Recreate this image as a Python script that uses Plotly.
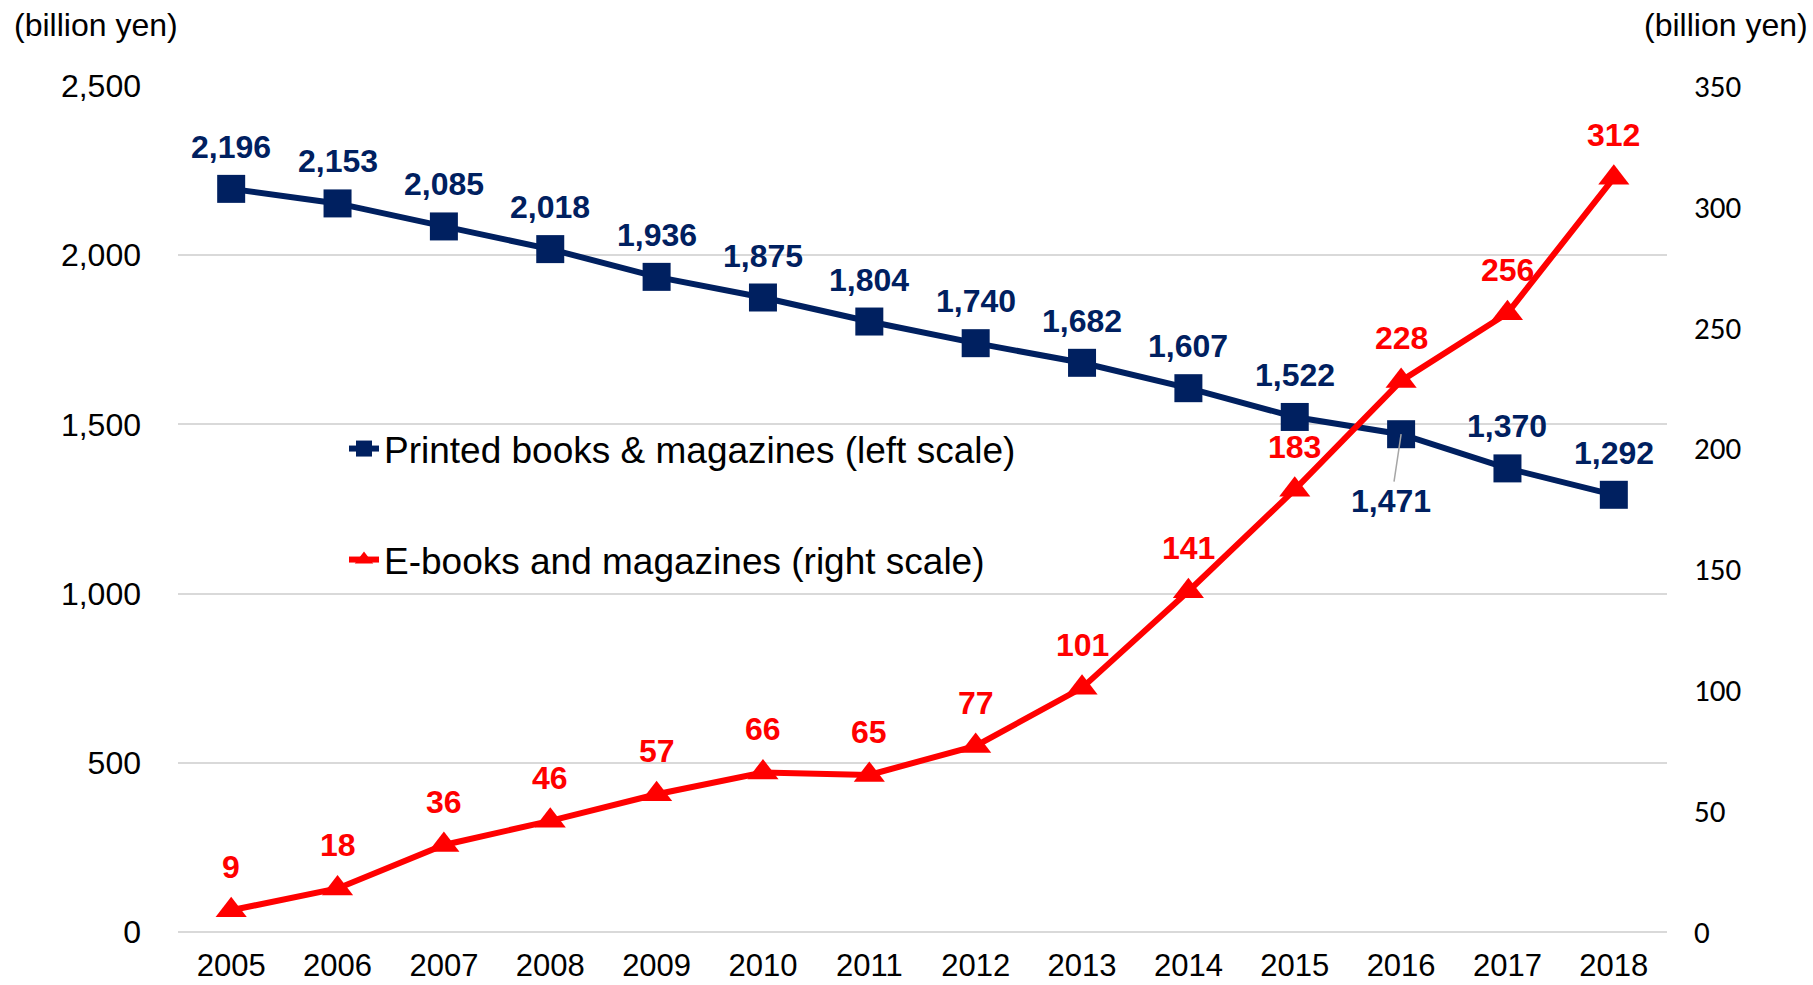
import plotly.graph_objects as go

years = list(range(2005, 2019))
printed = [2196, 2153, 2085, 2018, 1936, 1875, 1804, 1740, 1682, 1607, 1522, 1471, 1370, 1292]
ebooks = [9, 18, 36, 46, 57, 66, 65, 77, 101, 141, 183, 228, 256, 312]
left_ticks = [0, 500, 1000, 1500, 2000, 2500]
right_ticks = [0, 50, 100, 150, 200, 250, 300, 350]

NAVY = "#002060"
RED = "#FF0000"
FONT = "Liberation Sans, Arial, sans-serif"

W, H = 1813, 985
L, R, T, B = 178, 146, 86, 53
pw, ph = W - L - R, H - T - B

fig = go.Figure()
fig.add_trace(go.Scatter(
    x=years, y=printed, name="Printed books & magazines (left scale)",
    mode="lines+markers", line=dict(color=NAVY, width=6),
    marker=dict(symbol="square", size=28, color=NAVY), yaxis="y", legend="legend"))
fig.add_trace(go.Scatter(
    x=years, y=ebooks, name="E-books and magazines (right scale)",
    mode="lines+markers", line=dict(color=RED, width=6),
    marker=dict(symbol="triangle-up", size=27, color=RED), yaxis="y2", legend="legend2"))

LBL = 32
ann = []
for yr, v in zip(years, printed):
    if yr == 2016:
        ann.append(dict(x=yr, y=v, xref="x", yref="y", text=f"{v:,}", showarrow=True,
                        arrowhead=0, arrowwidth=1.5, arrowcolor="#A6A6A6", ax=-10, ay=67,
                        font=dict(family=FONT, size=LBL, color=NAVY, weight="bold")))
    else:
        ann.append(dict(x=yr, y=v, xref="x", yref="y", text=f"{v:,}", showarrow=False,
                        yshift=42, font=dict(family=FONT, size=LBL, color=NAVY, weight="bold")))
for yr, v in zip(years, ebooks):
    ann.append(dict(x=yr, y=v, xref="x", yref="y2", text=f"{v:,}", showarrow=False,
                    yshift=43, font=dict(family=FONT, size=LBL, color=RED, weight="bold")))

ann.append(dict(x=(12 - L) / pw, y=(H - B - 25) / ph, xref="paper", yref="paper",
                text="(billion yen)", showarrow=False, xanchor="left", yanchor="middle",
                font=dict(family=FONT, size=32, color="black")))
ann.append(dict(x=(1810 - L) / pw, y=(H - B - 25) / ph, xref="paper", yref="paper",
                text="(billion yen)", showarrow=False, xanchor="right", yanchor="middle",
                font=dict(family=FONT, size=32, color="black")))

fig.update_layout(
    width=W, height=H,
    margin=dict(l=L, r=R, t=T, b=B),
    plot_bgcolor="white", paper_bgcolor="white",
    showlegend=True,
    annotations=ann,
    xaxis=dict(range=[2004.5, 2018.5], tickvals=years, showgrid=False, showline=False,
               zeroline=False, ticks="", automargin=False,
               tickfont=dict(family=FONT, size=31, color="black"), ticklabelstandoff=12),
    yaxis=dict(range=[0, 2500], tickvals=left_ticks, tickformat=",", showgrid=True,
               gridcolor="#D9D9D9", gridwidth=2, zeroline=True, zerolinecolor="#D9D9D9",
               zerolinewidth=2, showline=False, ticks="", automargin=False,
               tickfont=dict(family=FONT, size=32, color="black"), ticklabelstandoff=36),
    yaxis2=dict(range=[0, 350], tickvals=right_ticks, overlaying="y", side="right",
                showgrid=False, zeroline=False, showline=False, ticks="", automargin=False,
                tickfont=dict(family="Carlito, Lato, sans-serif", size=31, color="black"),
                ticklabelstandoff=26),
    legend=dict(x=(344 - L) / pw, y=(H - B - 449) / ph, xanchor="left", yanchor="middle",
                bgcolor="rgba(0,0,0,0)", font=dict(family=FONT, size=37, color="black")),
    legend2=dict(x=(344 - L) / pw, y=(H - B - 560) / ph, xanchor="left", yanchor="middle",
                 bgcolor="rgba(0,0,0,0)", font=dict(family=FONT, size=37, color="black")),
)

fig.write_html("out.html", config={"displayModeBar": False},
               post_script="document.body.style.margin='0';document.body.style.overflow='hidden';")
